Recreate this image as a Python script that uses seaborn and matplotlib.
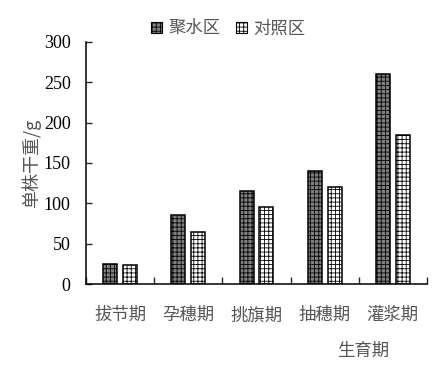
import pandas as pd
import numpy as np
import matplotlib
matplotlib.use('Agg')
import matplotlib.pyplot as plt
import seaborn as sns
from matplotlib.patches import Patch

# growth stages and dry weight per plant (g)
stages = ['拔节期', '孕穗期', '挑旗期', '抽穗期', '灌浆期']
groups = ['聚水区', '对照区']
water_zone = [25, 85, 115, 140, 260]
control_zone = [24, 65, 95, 120, 185]

df = pd.DataFrame({
    'stage': stages * 2,
    'group': [groups[0]] * 5 + [groups[1]] * 5,
    'weight': water_zone + control_zone,
})

sns.set_style('white')
plt.rcParams['font.family'] = ['Noto Sans CJK SC', 'DejaVu Sans']
plt.rcParams['hatch.linewidth'] = 0.6
plt.rcParams['hatch.color'] = 'black'

cjk = ['Noto Sans CJK SC', 'DejaVu Sans']
txt_color = '#555555'

fig = plt.figure(figsize=(4.48, 3.67), dpi=100)
ax = fig.add_axes([0.192, 0.226, 0.761, 0.660])

sns.barplot(data=df, x='stage', y='weight', hue='group', order=stages,
            hue_order=groups, width=0.58, gap=0.29, ax=ax, legend=False,
            palette=['#808080', 'white'], edgecolor='black', linewidth=1.1,
            saturation=1)

hatches = ['++++', '++++']
for cont, h in zip(ax.containers, hatches):
    for bar in cont:
        bar.set_hatch(h)
        bar.set_edgecolor('black')

ax.set_xlim(-0.5, 4.5)
ax.set_ylim(0, 300)
ax.set_yticks([0, 50, 100, 150, 200, 250, 300])
ax.set_yticklabels(['0', '50', '100', '150', '200', '250', '300'],
                   family='Liberation Serif', fontsize=13, color='black')
ax.tick_params(axis='y', direction='in', length=4.5, width=1, pad=11, left=True)

ax.set_xticks(range(5))
ax.set_xticklabels(stages, family=cjk, fontsize=12.5, color=txt_color)
ax.tick_params(axis='x', which='major', length=0, pad=16)
ax.set_xticks(np.arange(-0.5, 5, 1), minor=True)
ax.tick_params(axis='x', which='minor', direction='in', length=5, width=1, bottom=True)

for s in ['top', 'right']:
    ax.spines[s].set_visible(False)
for s in ['left', 'bottom']:
    ax.spines[s].set_color('black')
    ax.spines[s].set_linewidth(1.1)

ax.set_xlabel('')
ax.set_ylabel('单株干重/g', family=cjk, fontsize=13, color=txt_color, labelpad=2)

fig.text(0.81, 0.045, '生育期', family=cjk, fontsize=12.5, color=txt_color,
         ha='center', va='center')

handles = [Patch(facecolor='#808080', edgecolor='black', hatch='++++', linewidth=0.8),
           Patch(facecolor='white', edgecolor='black', hatch='++++', linewidth=0.8)]
leg = fig.legend(handles, groups, loc='center', bbox_to_anchor=(0.51, 0.923), ncol=2,
                 frameon=False, handlelength=0.6, handleheight=0.6, handletextpad=0.4,
                 columnspacing=0.9, prop={'family': cjk, 'size': 12.5})
for t in leg.get_texts():
    t.set_color(txt_color)

plt.savefig('out.png', dpi=100)
